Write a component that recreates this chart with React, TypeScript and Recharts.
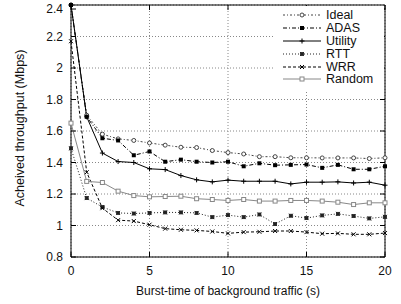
import React from 'react';
import {
  LineChart,
  Line,
  XAxis,
  YAxis,
  CartesianGrid,
  Legend,
  ReferenceArea,
} from 'recharts';

const burstTimes = [0, 1, 2, 3, 4, 5, 6, 7, 8, 9, 10, 11, 12, 13, 14, 15, 16, 17, 18, 19, 20];
const xTicks = [0, 5, 10, 15, 20];
const yTicks = [0.8, 1, 1.2, 1.4, 1.6, 1.8, 2, 2.2, 2.4];

const ideal = [2.4, 1.7, 1.58, 1.55, 1.54, 1.524, 1.51, 1.497, 1.495, 1.476, 1.463, 1.454, 1.437, 1.437, 1.43, 1.43, 1.429, 1.429, 1.429, 1.425, 1.43];
const adas = [2.4, 1.69, 1.554, 1.54, 1.446, 1.47, 1.405, 1.418, 1.405, 1.4, 1.405, 1.376, 1.395, 1.383, 1.385, 1.387, 1.366, 1.385, 1.357, 1.357, 1.376];
const utility = [2.4, 1.69, 1.46, 1.406, 1.4, 1.36, 1.355, 1.317, 1.29, 1.277, 1.288, 1.281, 1.281, 1.281, 1.264, 1.275, 1.275, 1.277, 1.27, 1.275, 1.256];
const rtt = [1.49, 1.174, 1.117, 1.08, 1.076, 1.08, 1.083, 1.083, 1.08, 1.053, 1.066, 1.053, 1.07, 1.009, 1.062, 1.047, 1.064, 1.074, 1.06, 1.045, 1.055];
const wrr = [2.17, 1.338, 1.11, 1.034, 1.028, 1.005, 0.98, 0.973, 0.969, 0.962, 0.95, 0.958, 0.96, 0.965, 0.965, 0.958, 0.948, 0.95, 0.944, 0.944, 0.952];
const random = [1.65, 1.28, 1.273, 1.218, 1.19, 1.182, 1.184, 1.186, 1.17, 1.165, 1.159, 1.165, 1.155, 1.155, 1.159, 1.159, 1.155, 1.148, 1.133, 1.144, 1.144];

const series = [
  { key: 'Ideal', values: ideal, color: '#444', dash: '2 2 1 2', marker: 'circle' },
  { key: 'ADAS', values: adas, color: '#000', dash: '4 2 1 2', marker: 'filledSquare' },
  { key: 'Utility', values: utility, color: '#000', dash: undefined, marker: 'plus' },
  { key: 'RTT', values: rtt, color: '#222', dash: '1 2', marker: 'star' },
  { key: 'WRR', values: wrr, color: '#000', dash: '3 2', marker: 'cross' },
  { key: 'Random', values: random, color: '#888', dash: undefined, marker: 'openSquare' },
];

const data = burstTimes.map((t, i) => {
  const row: Record<string, number> = { t };
  series.forEach((s) => {
    row[s.key] = s.values[i];
  });
  return row;
});

const W = 401;
const H = 304;
const PLOT_TOP = 5;
const PLOT_BOTTOM = 257;
const PLOT_LEFT = 71;
const PLOT_RIGHT = 385;
const FONT = '"Liberation Sans", Arial, Helvetica, sans-serif';

const drawMarker = (kind: string, cx: number, cy: number, color: string, key?: string) => {
  const r = 2;
  switch (kind) {
    case 'circle':
      return <circle key={key} cx={cx} cy={cy} r={r} fill="#fff" stroke={color} strokeWidth={1} />;
    case 'filledSquare':
      return <rect key={key} x={cx - r} y={cy - r} width={r * 2} height={r * 2} fill={color} />;
    case 'openSquare':
      return <rect key={key} x={cx - r} y={cy - r} width={r * 2} height={r * 2} fill="#fff" stroke={color} strokeWidth={1} />;
    case 'plus':
      return (
        <g key={key} stroke={color} strokeWidth={1}>
          <line x1={cx - 2.5} y1={cy} x2={cx + 2.5} y2={cy} />
          <line x1={cx} y1={cy - 2.5} x2={cx} y2={cy + 2.5} />
        </g>
      );
    case 'cross':
      return (
        <g key={key} stroke={color} strokeWidth={1}>
          <line x1={cx - 2} y1={cy - 2} x2={cx + 2} y2={cy + 2} />
          <line x1={cx - 2} y1={cy + 2} x2={cx + 2} y2={cy - 2} />
        </g>
      );
    default:
      return (
        <g key={key} stroke={color} strokeWidth={0.8}>
          <rect x={cx - 1.5} y={cy - 1.5} width={3} height={3} fill={color} />
          <line x1={cx - 2} y1={cy - 2} x2={cx + 2} y2={cy + 2} />
          <line x1={cx - 2} y1={cy + 2} x2={cx + 2} y2={cy - 2} />
        </g>
      );
  }
};

const XTick = ({ x, payload }: any) => (
  <g>
    <line x1={x} y1={PLOT_BOTTOM} x2={x} y2={PLOT_BOTTOM - 5} stroke="#000" />
    <line x1={x} y1={PLOT_TOP} x2={x} y2={PLOT_TOP + 5} stroke="#000" />
    <text x={x} y={PLOT_BOTTOM + 18} textAnchor="middle" fontSize={12} fontFamily={FONT} fill="#111">
      {payload.value}
    </text>
  </g>
);

const YTick = ({ y, payload }: any) => (
  <g>
    <line x1={PLOT_LEFT} y1={y} x2={PLOT_LEFT + 5} y2={y} stroke="#000" />
    <line x1={PLOT_RIGHT} y1={y} x2={PLOT_RIGHT - 5} y2={y} stroke="#000" />
    <text x={PLOT_LEFT - 8} y={y + 4} textAnchor="end" fontSize={12} fontFamily={FONT} fill="#111">
      {String(Number(payload.value.toFixed(1)))}
    </text>
  </g>
);

const LegendContent = () => (
  <div style={{ background: '#fff', padding: '3px 0 4px 0' }}>
    {series.map((s) => (
      <div key={s.key} style={{ display: 'flex', alignItems: 'center', height: 12.8 }}>
        <svg width={40} height={10} style={{ marginLeft: 7 }}>
          <line x1={1} y1={5} x2={39} y2={5} stroke={s.color} strokeDasharray={s.dash} />
          {drawMarker(s.marker, 20, 5, s.color)}
        </svg>
        <span style={{ fontFamily: FONT, fontSize: 12.5, color: '#111', marginLeft: 4, lineHeight: '12px' }}>
          {s.key}
        </span>
      </div>
    ))}
  </div>
);

export default function App() {
  return (
    <div style={{ position: 'absolute', left: 0, top: 0, width: W, height: H, background: '#fff' }}>
      <LineChart
        width={W}
        height={H}
        data={data}
        margin={{ top: PLOT_TOP, right: W - PLOT_RIGHT, left: 0, bottom: 0 }}
      >
        <CartesianGrid stroke="#888" strokeDasharray="1 2" />
        <XAxis
          dataKey="t"
          type="number"
          domain={[0, 20]}
          ticks={xTicks}
          axisLine={false}
          tickLine={false}
          tick={<XTick />}
          height={H - PLOT_BOTTOM}
          label={{
            content: () => (
              <text x={(PLOT_LEFT + PLOT_RIGHT) / 2} y={295} textAnchor="middle" fontSize={12} fontFamily={FONT} fill="#111">
                Burst-time of background traffic (s)
              </text>
            ),
          }}
        />
        <YAxis
          type="number"
          domain={[0.8, 2.4]}
          ticks={yTicks}
          axisLine={false}
          tickLine={false}
          tick={<YTick />}
          width={PLOT_LEFT}
          label={{
            content: () => (
              <text
                x={0}
                y={0}
                transform={`translate(24, ${(PLOT_TOP + PLOT_BOTTOM) / 2 - 3}) rotate(-90)`}
                textAnchor="middle"
                fontSize={12.5}
                fontFamily={FONT}
                fill="#111"
              >
                Acheived throughput (Mbps)
              </text>
            ),
          }}
        />
        {series.map((s) => (
          <Line
            key={s.key}
            dataKey={s.key}
            stroke={s.color}
            strokeWidth={1}
            strokeDasharray={s.dash}
            isAnimationActive={false}
            activeDot={false}
            dot={(p: any) => drawMarker(s.marker, p.cx, p.cy, s.color, `${s.key}-${p.index}`)}
          />
        ))}
        <ReferenceArea x1={0} x2={20} y1={0.8} y2={2.4} fill="none" stroke="#000" strokeWidth={1} />
        <Legend
          layout="horizontal"
          verticalAlign="middle"
          align="center"
          content={<LegendContent />}
          wrapperStyle={{ position: 'absolute', left: 275, top: 6, width: 109, height: 'auto' }}
        />
      </LineChart>
    </div>
  );
}
